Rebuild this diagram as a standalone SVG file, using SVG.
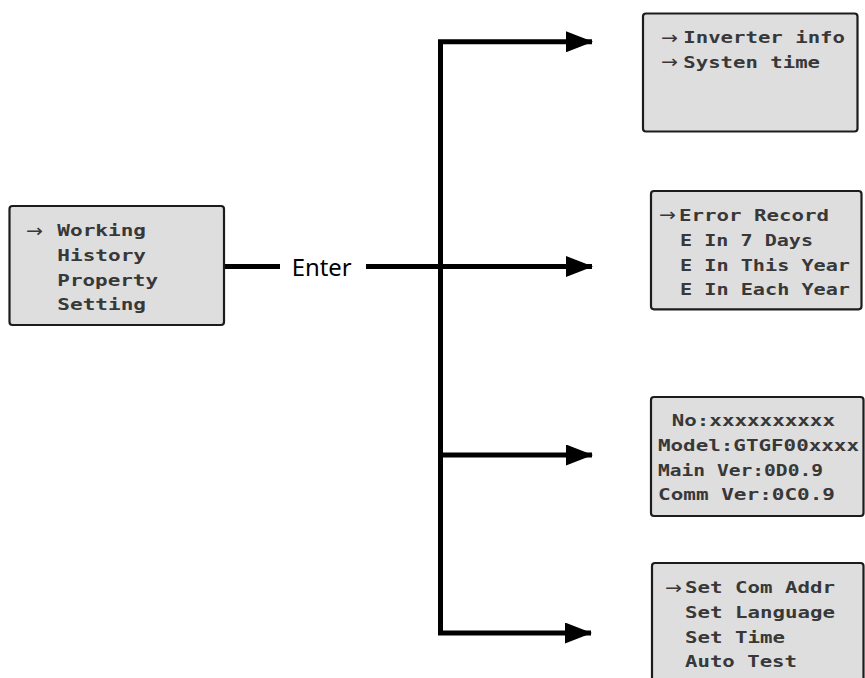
<svg xmlns="http://www.w3.org/2000/svg" width="865" height="678" viewBox="0 0 865 678">
<style>
.box{fill:#dedede;stroke:#1c1c1c;stroke-width:2.2}
.t{font-family:"DejaVu Sans Mono","Liberation Mono",monospace;font-weight:bold;font-size:15px;fill:#383838}
.ar{font-family:"DejaVu Sans","Liberation Sans",sans-serif;font-size:18px;fill:#383838}
.ln{fill:none;stroke:#000;stroke-width:5}
.lbl{font-family:"Noto Sans","Open Sans",sans-serif;font-size:24px;fill:#000}
</style>
<defs>
<marker id="ah" markerUnits="userSpaceOnUse" markerWidth="27" markerHeight="21" refX="26" refY="10.5" orient="auto">
<path d="M0,0 L27,10.5 L0,21 Z" fill="#000"/>
</marker>
</defs>
<g id="connectors">
<path class="ln" d="M224,266.5 H280"/>
<path class="ln" d="M366,266.5 H592" marker-end="url(#ah)"/>
<path class="ln" d="M440.5,268 V41.8 H592" marker-end="url(#ah)"/>
<path class="ln" d="M440.5,265 V633 H591" marker-end="url(#ah)"/>
<path class="ln" d="M440.5,455 H592" marker-end="url(#ah)"/>
<text class="lbl" x="291.7" y="276" textLength="60" lengthAdjust="spacingAndGlyphs">Enter</text>
</g>
<g id="main-menu">
<rect class="box" x="9.5" y="206" width="214.5" height="119" rx="3"/>
<text class="ar" x="26" y="236.5" textLength="17" lengthAdjust="spacingAndGlyphs">→</text>
<text class="t" x="57.3" y="236" textLength="88.7" lengthAdjust="spacingAndGlyphs">Working</text>
<text class="t" x="57.3" y="261" textLength="88.7" lengthAdjust="spacingAndGlyphs">History</text>
<text class="t" x="57.3" y="285.5" textLength="100.7" lengthAdjust="spacingAndGlyphs">Property</text>
<text class="t" x="57.3" y="310" textLength="88.7" lengthAdjust="spacingAndGlyphs">Setting</text>
</g>
<g id="working-menu">
<rect class="box" x="643" y="13.5" width="214.5" height="118" rx="3"/>
<text class="ar" x="661" y="43.7" textLength="17" lengthAdjust="spacingAndGlyphs">→</text>
<text class="t" x="683.3" y="43.2" textLength="161.7" lengthAdjust="spacingAndGlyphs">Inverter info</text>
<text class="ar" x="661" y="68.3" textLength="17" lengthAdjust="spacingAndGlyphs">→</text>
<text class="t" x="683.3" y="67.8" textLength="136.7" lengthAdjust="spacingAndGlyphs">Systen time</text>
</g>
<g id="history-menu">
<rect class="box" x="651" y="191" width="210.5" height="118.3" rx="3"/>
<text class="ar" x="659" y="221" textLength="17" lengthAdjust="spacingAndGlyphs">→</text>
<text class="t" x="679" y="220.5" textLength="150" lengthAdjust="spacingAndGlyphs">Error Record</text>
<text class="t" x="680" y="246" textLength="133" lengthAdjust="spacingAndGlyphs">E In 7 Days</text>
<text class="t" x="680" y="271" textLength="170" lengthAdjust="spacingAndGlyphs">E In This Year</text>
<text class="t" x="680" y="295" textLength="170" lengthAdjust="spacingAndGlyphs">E In Each Year</text>
</g>
<g id="property-menu">
<rect class="box" x="651" y="397" width="212.5" height="119" rx="3"/>
<text class="t" x="671.7" y="426" textLength="163.3" lengthAdjust="spacingAndGlyphs">No:xxxxxxxxxx</text>
<text class="t" x="658" y="451" textLength="201" lengthAdjust="spacingAndGlyphs">Model:GTGF00xxxx</text>
<text class="t" x="658" y="475.5" textLength="165" lengthAdjust="spacingAndGlyphs">Main Ver:0D0.9</text>
<text class="t" x="658" y="500" textLength="177" lengthAdjust="spacingAndGlyphs">Comm Ver:0C0.9</text>
</g>
<g id="setting-menu">
<rect class="box" x="652" y="563" width="211.5" height="130" rx="3"/>
<text class="ar" x="665" y="593.5" textLength="17" lengthAdjust="spacingAndGlyphs">→</text>
<text class="t" x="685" y="593" textLength="150" lengthAdjust="spacingAndGlyphs">Set Com Addr</text>
<text class="t" x="685" y="618" textLength="150" lengthAdjust="spacingAndGlyphs">Set Language</text>
<text class="t" x="685" y="643" textLength="100" lengthAdjust="spacingAndGlyphs">Set Time</text>
<text class="t" x="685" y="667" textLength="112" lengthAdjust="spacingAndGlyphs">Auto Test</text>
</g>
</svg>
